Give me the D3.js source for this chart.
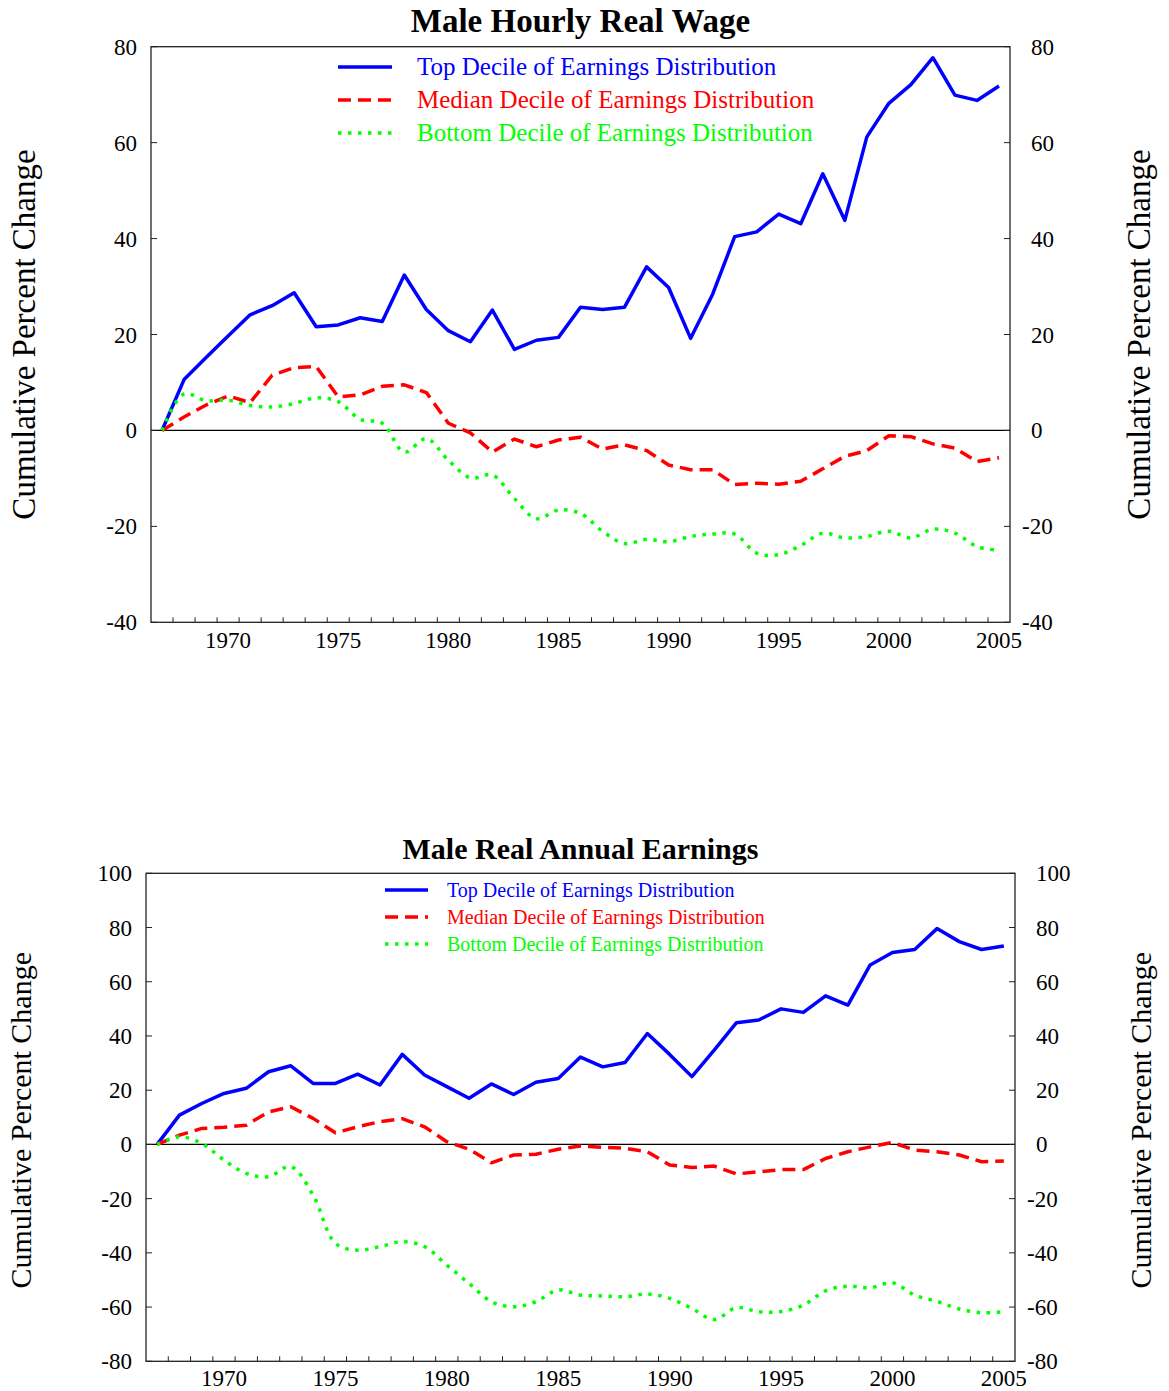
<!doctype html>
<html>
<head>
<meta charset="UTF-8">
<title>Male wages and earnings</title>
<script src="https://cdn.jsdelivr.net/npm/d3@7/dist/d3.min.js"></script>
<style>
  html, body { margin: 0; padding: 0; background: #fff; }
  svg text { font-family: "Liberation Serif", "Times New Roman", serif; }
</style>
<script>
  // years on the x axis
  var years = [1967, 1968, 1969, 1970, 1971, 1972, 1973, 1974, 1975, 1976,
    1977, 1978, 1979, 1980, 1981, 1982, 1983, 1984, 1985, 1986,
    1987, 1988, 1989, 1990, 1991, 1992, 1993, 1994, 1995, 1996,
    1997, 1998, 1999, 2000, 2001, 2002, 2003, 2004, 2005];
  var yearLabels = [1970, 1975, 1980, 1985, 1990, 1995, 2000, 2005];

  // Male hourly real wage, cumulative % change
  var wageTop = [0, 10.6, 15.2, 19.7, 24.1, 26.0, 28.7, 21.6, 22.0, 23.5,
    22.7, 32.4, 25.2, 20.8, 18.5, 25.1, 16.9, 18.8, 19.4, 25.7,
    25.2, 25.7, 34.1, 29.8, 19.2, 28.4, 40.4, 41.4, 45.1, 43.1,
    53.5, 43.8, 61.2, 68.2, 72.1, 77.7, 69.9, 68.8, 71.8];
  var wageMedian = [0, 2.8, 5.3, 7.2, 5.8, 11.5, 13.1, 13.3, 7.0, 7.4,
    9.2, 9.5, 7.9, 1.5, -0.5, -4.5, -1.8, -3.4, -2.0, -1.4,
    -3.9, -3.0, -4.2, -7.2, -8.2, -8.2, -11.3, -11.0, -11.2, -10.6,
    -8.0, -5.4, -4.2, -1.1, -1.3, -2.8, -3.7, -6.5, -5.7];
  var wageBottom = [0, 7.6, 6.2, 6.3, 5.2, 4.9, 5.6, 6.8, 6.0, 2.3,
    1.5, -4.5, -1.7, -6.2, -9.9, -9.3, -14.2, -18.4, -16.6, -17.3,
    -21.0, -23.6, -22.7, -23.2, -22.1, -21.6, -21.6, -25.6, -25.9, -24.0,
    -21.4, -22.4, -22.1, -21.0, -22.4, -20.6, -21.4, -24.2, -25.0];
  var wageTicks = [-40, -20, 0, 20, 40, 60, 80];

  // Male real annual earnings, cumulative % change
  var earnTop = [0, 10.8, 15.1, 18.8, 20.7, 26.8, 29.0, 22.5, 22.5, 25.9,
    21.9, 33.2, 25.6, 21.3, 17.0, 22.3, 18.4, 22.9, 24.3, 32.2,
    28.6, 30.2, 40.9, 33.2, 25.0, 34.8, 44.9, 45.9, 50.0, 48.7,
    54.8, 51.4, 66.2, 70.8, 71.9, 79.6, 74.8, 71.9, 73.2];
  var earnMedian = [0, 3.4, 5.9, 6.3, 7.1, 12.0, 13.9, 9.6, 4.3, 6.5,
    8.4, 9.5, 6.5, 1.0, -1.8, -6.8, -3.9, -3.6, -1.8, -0.6,
    -1.1, -1.4, -2.7, -7.6, -8.5, -8.0, -10.9, -10.1, -9.3, -9.3,
    -5.2, -2.7, -0.9, 0.7, -2.1, -2.7, -3.9, -6.4, -6.1];
  var earnBottom = [0, 2.8, 0.4, -5.8, -10.7, -11.9, -8.2, -18.7, -36.5, -39.0,
    -37.7, -35.9, -37.7, -44.5, -51.3, -58.0, -59.9, -58.0, -53.7, -55.6,
    -55.9, -56.2, -55.2, -56.8, -60.5, -64.6, -60.2, -61.7, -61.6, -59.3,
    -54.0, -52.3, -52.9, -51.0, -55.6, -57.9, -60.7, -62.1, -61.7];
  var earnTicks = [-80, -60, -40, -20, 0, 20, 40, 60, 80, 100];

  var seriesNames = ["Top Decile of Earnings Distribution",
    "Median Decile of Earnings Distribution",
    "Bottom Decile of Earnings Distribution"];
  var seriesColors = ["#0000ff", "#ff0000", "#00ff00"];
  var seriesDash = [null, "13,7", "3.5,6.5"];

  function drawPanel(svg, p) {
    var x = d3.scaleLinear().domain([1966.5, 2005.5]).range([p.left, p.right]),
      y = d3.scaleLinear().domain(p.yDomain).range([p.bottom, p.top]);

    var g = svg.append("g");

    // title
    g.append("text")
      .attr("x", (p.left + p.right) / 2)
      .attr("y", p.titleY)
      .attr("text-anchor", "middle")
      .style("font-size", p.titleSize + "px")
      .style("font-weight", "bold")
      .text(p.title);

    // frame
    g.append("rect")
      .attr("x", p.left).attr("y", p.top)
      .attr("width", p.right - p.left).attr("height", p.bottom - p.top)
      .attr("fill", "none").attr("stroke", "#222").attr("stroke-width", 1.3);

    // zero line
    g.append("line")
      .attr("x1", p.left).attr("x2", p.right)
      .attr("y1", y(0)).attr("y2", y(0))
      .attr("stroke", "#000").attr("stroke-width", 1.2);

    // minor year ticks sit between years
    var minor = years.slice(0, years.length - 1).map(function(d) { return d + 0.5; });
    g.selectAll(".xminor").data(minor).enter().append("line")
      .attr("x1", function(d) { return x(d); }).attr("x2", function(d) { return x(d); })
      .attr("y1", p.bottom).attr("y2", p.bottom - 5)
      .attr("stroke", "#222");

    g.selectAll(".xlab").data(yearLabels).enter().append("text")
      .attr("x", function(d) { return x(d); })
      .attr("y", p.bottom + p.xLabOff)
      .attr("text-anchor", "middle")
      .style("font-size", "23px")
      .text(String);

    // y ticks, both sides
    g.selectAll(".ytl").data(p.yTicks).enter().append("line")
      .attr("x1", p.left).attr("x2", p.left + 6)
      .attr("y1", function(d) { return y(d); }).attr("y2", function(d) { return y(d); })
      .attr("stroke", "#222");
    g.selectAll(".ytr").data(p.yTicks).enter().append("line")
      .attr("x1", p.right).attr("x2", p.right - 6)
      .attr("y1", function(d) { return y(d); }).attr("y2", function(d) { return y(d); })
      .attr("stroke", "#222");

    g.selectAll(".ylabl").data(p.yTicks).enter().append("text")
      .attr("x", p.left - 14)
      .attr("y", function(d) { return y(d) + 8; })
      .attr("text-anchor", "end")
      .style("font-size", "23px")
      .text(String);
    g.selectAll(".ylabr").data(p.yTicks).enter().append("text")
      .attr("x", function(d) { return d < 0 ? p.right + 12 : p.right + 21; })
      .attr("y", function(d) { return y(d) + 8; })
      .attr("text-anchor", "start")
      .style("font-size", "23px")
      .text(String);

    // axis titles
    [p.yTitleLeft, p.yTitleRight].forEach(function(bx) {
      g.append("text")
        .attr("transform", "translate(" + bx + "," + ((p.top + p.bottom) / 2 + p.yTitleShift) + ") rotate(-90)")
        .attr("text-anchor", "middle")
        .style("font-size", p.yTitleSize + "px")
        .text("Cumulative Percent Change");
    });

    // series
    var line = d3.line()
      .x(function(d, i) { return x(years[i]); })
      .y(function(d) { return y(d); });
    var smooth = d3.line()
      .x(function(d, i) { return x(years[i]); })
      .y(function(d) { return y(d); })
      .curve(d3.curveCatmullRom);

    p.series.forEach(function(s, k) {
      g.append("path")
        .attr("d", k === 2 ? smooth(s) : line(s))
        .attr("fill", "none")
        .attr("stroke", seriesColors[k])
        .attr("stroke-width", 3.5)
        .attr("stroke-linejoin", "round")
        .attr("stroke-dasharray", seriesDash[k]);
    });

    // legend
    seriesNames.forEach(function(name, k) {
      var ly = p.legY + k * p.legStep;
      g.append("line")
        .attr("x1", p.legX1).attr("x2", p.legX2)
        .attr("y1", ly).attr("y2", ly)
        .attr("stroke", seriesColors[k])
        .attr("stroke-width", 3.5)
        .attr("stroke-dasharray", seriesDash[k]);
      g.append("text")
        .attr("x", p.legTextX)
        .attr("y", ly + p.legSize * 0.33)
        .attr("fill", seriesColors[k])
        .style("font-size", p.legSize + "px")
        .text(name);
    });
  }

  window.onload = function() {
    var svg = d3.select("#chart").append("svg")
      .attr("width", 1169).attr("height", 1391);

    drawPanel(svg, {
      title: "Male Hourly Real Wage", titleY: 32, titleSize: 33,
      left: 151, right: 1010, top: 46.7, bottom: 622.3,
      yDomain: [-40, 80], yTicks: wageTicks,
      series: [wageTop, wageMedian, wageBottom],
      xLabOff: 26,
      yTitleLeft: 35, yTitleRight: 1150, yTitleShift: 0, yTitleSize: 33,
      legX1: 338, legX2: 392, legTextX: 417, legY: 67, legStep: 33, legSize: 25
    });

    drawPanel(svg, {
      title: "Male Real Annual Earnings", titleY: 859, titleSize: 30,
      left: 146, right: 1015, top: 873.3, bottom: 1361.3,
      yDomain: [-80, 100], yTicks: earnTicks,
      series: [earnTop, earnMedian, earnBottom],
      xLabOff: 25,
      yTitleLeft: 31, yTitleRight: 1151, yTitleShift: 3, yTitleSize: 30,
      legX1: 385, legX2: 428, legTextX: 447, legY: 890, legStep: 27, legSize: 20
    });
  };
</script>
</head>
<body>
  <div id="chart"></div>
</body>
</html>
